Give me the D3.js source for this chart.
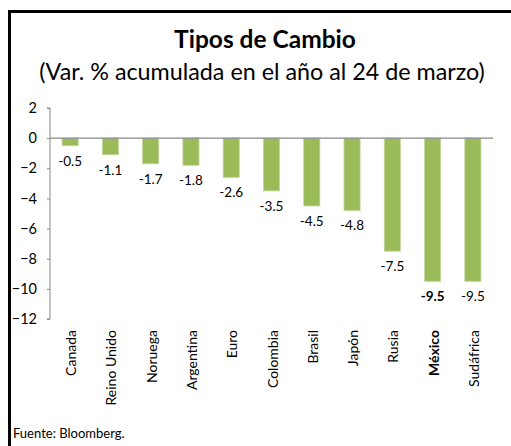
<!DOCTYPE html>
<html><head><meta charset="utf-8">
<script src="https://cdn.jsdelivr.net/npm/d3@7"></script>
<style>body{margin:0;background:#fff}svg{display:block}</style>
</head><body>
<script>
const categories = ["Canada","Reino Unido","Noruega","Argentina","Euro","Colombia","Brasil","Japón","Rusia","México","Sudáfrica"];
const values = [-0.5,-1.1,-1.7,-1.8,-2.6,-3.5,-4.5,-4.8,-7.5,-9.5,-9.5];
const yTicks = [2,0,-2,-4,-6,-8,-10,-12];
const highlight = "México";
const title = "Tipos de Cambio";
const subtitle = "(Var. % acumulada en el año al 24 de marzo)";
const source = "Fuente: Bloomberg.";

const W = 511, H = 446;
const font = "Lato, 'Open Sans', sans-serif";
const svg = d3.select("body").append("svg").attr("width", W).attr("height", H);

// frame
svg.append("path").attr("d", "M9.5,446 V11.5 H511").attr("fill","none").attr("stroke","#000").attr("stroke-width",3);

svg.append("text").attr("x", 265).attr("y", 48).attr("text-anchor","middle")
  .attr("font-family", font).attr("font-weight","bold").attr("font-size", 24.5).text(title);
svg.append("text").attr("x", 262).attr("y", 80).attr("text-anchor","middle")
  .attr("font-family", font).attr("font-size", 23.3).text(subtitle);

const x = d3.scaleBand().domain(categories).range([50, 493]).paddingInner(0.6).paddingOuter(0.3);
const y = d3.scaleLinear().domain([-12, 2]).range([319, 108]);

// y axis
const ya = svg.append("g").attr("transform","translate(50,0)")
  .call(d3.axisLeft(y).tickValues(yTicks).tickSize(3).tickPadding(10).tickFormat(d3.format("d")));
ya.select(".domain").attr("stroke","#888").attr("d", `M-3,${y(2)}H0V${y(-12)}H-3`);
ya.selectAll(".tick line").attr("stroke","#888");
ya.selectAll(".tick text").attr("font-family", font).attr("font-size", 14.5).attr("fill","#000");

// bars
svg.selectAll("rect.bar").data(values).join("rect").attr("class","bar")
  .attr("x", (d,i) => x(categories[i]))
  .attr("width", x.bandwidth())
  .attr("y", d => y(Math.max(0,d)))
  .attr("height", d => Math.abs(y(d) - y(0)))
  .attr("fill", "#9bbb59").attr("stroke","#c3d69b").attr("stroke-width",0.8);

// zero line
svg.append("line").attr("x1",50).attr("x2",493).attr("y1",y(0)).attr("y2",y(0))
  .attr("stroke","#888").attr("stroke-width",1.2);

// data labels
svg.selectAll("text.val").data(values).join("text").attr("class","val")
  .attr("x", (d,i) => x(categories[i]) + x.bandwidth()/2)
  .attr("y", d => y(d) + 20)
  .attr("text-anchor","middle").attr("font-family", font).attr("font-size", 13.5)
  .attr("font-weight", (d,i) => categories[i] === highlight ? "bold" : "normal")
  .text(d => d3.format(".1f")(d).replace("−","-"));

// category labels
svg.selectAll("text.cat").data(categories).join("text").attr("class","cat")
  .attr("transform", d => `translate(${x(d) + x.bandwidth()/2 + 6},330) rotate(-90)`)
  .attr("text-anchor","end").attr("font-family", font).attr("font-size", 14)
  .attr("font-weight", d => d === highlight ? "bold" : "normal")
  .text(d => d);

svg.append("text").attr("x", 13).attr("y", 438).attr("font-family", font).attr("font-size", 13).text(source);
</script>
</body></html>
